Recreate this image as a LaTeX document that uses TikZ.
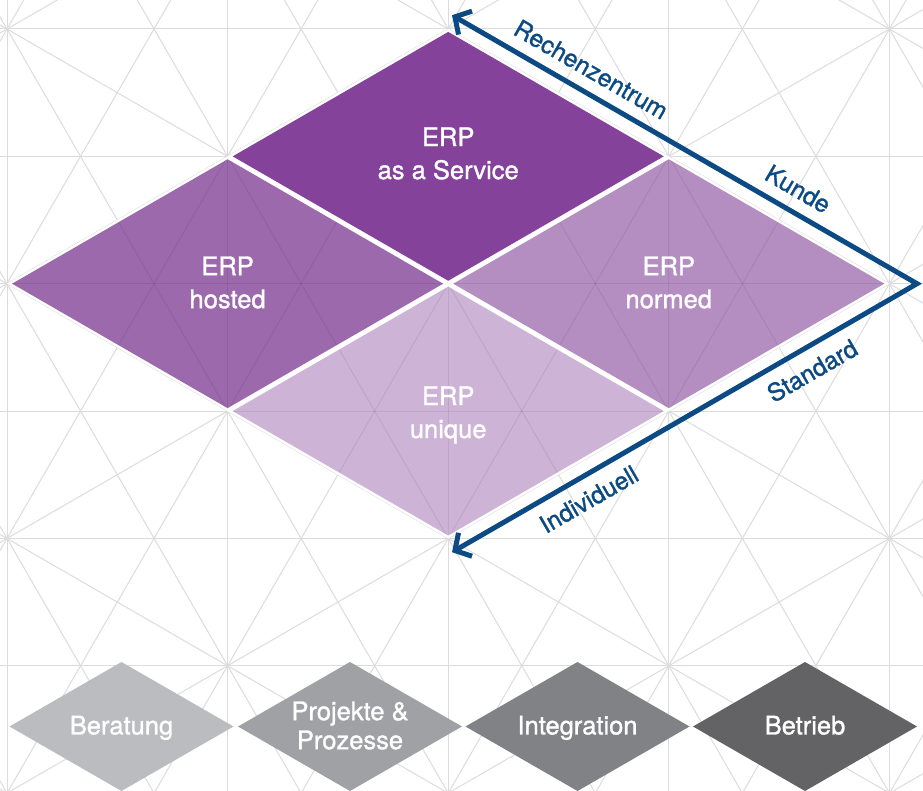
\documentclass[tikz,border=0pt]{standalone}
\usepackage{fontspec}
\setmainfont{TeX Gyre Heros}
\newfontfamily\medfont{TeX Gyre Heros}[FakeBold=1.2]
\usetikzlibrary{arrows.meta}
\definecolor{gridc}{HTML}{DCDCDC}
\definecolor{svc}{HTML}{84429A}
\definecolor{hst}{HTML}{9C69AC}
\definecolor{nrm}{HTML}{B48DC1}
\definecolor{unq}{HTML}{CDB3D6}
\definecolor{gA}{HTML}{BBBCBF}
\definecolor{gB}{HTML}{A0A1A4}
\definecolor{gC}{HTML}{818285}
\definecolor{gD}{HTML}{636365}
\definecolor{navy}{HTML}{0C4A83}
\newcommand\latticelines{%
  \foreach \k in {0,...,6} {\draw (-1,\k) -- (5,\k);}%
  \foreach \k in {0,...,4} {\draw (\k,-1) -- (\k,7);}%
  \foreach \m in {-4,...,4} {\draw (-1,{2*(\m)-1}) -- (5,{2*(\m)+5});}%
  \foreach \m in {-1,...,7} {\draw (-1,{2*(\m)+1}) -- (5,{2*(\m)-5});}%
  \foreach \m in {-10,...,5} {\draw (-1,{2*(\m)-3}) -- (5,{2*(\m)+15});}%
  \foreach \m in {-3,...,12} {\draw (-1,{2*(\m)+3}) -- (5,{2*(\m)-15});}%
}
\newcommand\graydia[2]{\fill[#2] ({#1-112},726.5) -- (#1,662) -- ({#1+112},726.5) -- (#1,791) -- cycle;}
\tikzset{
  erplabel/.style={text=white, font=\medfont\fontsize{25.5}{33}\selectfont, align=center, inner sep=0pt},
  svclabel/.style={text=white, font=\medfont\fontsize{25.5}{29}\selectfont, align=center, inner sep=0pt},
  axislabel/.style={text=navy, font=\medfont\fontsize{24.5}{28}\selectfont, sloped, inner sep=11pt},
  axisarrow/.style={draw=navy, line width=5pt, {Straight Barb[length=12pt,width=27pt]}-{Straight Barb[length=12pt,width=27pt]}},
}
\begin{document}
\begin{tikzpicture}[x=1pt,y=-1pt]
\useasboundingbox (0,0) rectangle (923,791);
\clip (0,0) rectangle (923,791);
\fill[white] (0,0) rectangle (923,791);
% lattice: stars at (7+220.6u, 29+127.35v)
\begin{scope}[shift={(7,29)},x={(220.6pt,0pt)},y={(0pt,-127.35pt)}]
  \begin{scope}[gridc, line width=1pt]
    \latticelines
  \end{scope}
  \fill[white] (0,2) -- (2,0) -- (4,2) -- (2,4) -- cycle;
  \fill[svc] (1.023,1) -- (2,0.023) -- (2.977,1) -- (2,1.977) -- cycle;
  \fill[hst] (0.023,2) -- (1,1.023) -- (1.977,2) -- (1,2.977) -- cycle;
  \fill[nrm] (2.023,2) -- (3,1.023) -- (3.977,2) -- (3,2.977) -- cycle;
  \fill[unq] (1.023,3) -- (2,2.023) -- (2.977,3) -- (2,3.977) -- cycle;
  \begin{scope}
    \clip (0.023,2) -- (1,1.023) -- (1.977,2) -- (1,2.977) -- cycle
          (2.023,2) -- (3,1.023) -- (3.977,2) -- (3,2.977) -- cycle
          (1.023,3) -- (2,2.023) -- (2.977,3) -- (2,3.977) -- cycle;
    \begin{scope}[black, opacity=0.07, line width=1pt]
      \latticelines
    \end{scope}
  \end{scope}
\end{scope}
% ERP labels
\node[erplabel] (svct) at (448.2,153.5) {ERP\\as a Service};
\node[erplabel] (hstt) at (227.6,282.5) {ERP\\hosted};
\node[erplabel] (nrmt) at (668.8,282.5) {ERP\\normed};
\node[erplabel] (unqt) at (448.2,415) {ERP\\unique};
% service diamonds
\graydia{121.5}{gA}
\graydia{350}{gB}
\graydia{577.5}{gC}
\graydia{805}{gD}
\node[svclabel] (berat) at (121.5,727.9) {Beratung};
\node[svclabel] (proj) at (350,725.5) {Projekte \&\\Prozesse};
\node[svclabel] (integ) at (577.5,727.9) {Integration};
\node[svclabel] (betr) at (805,725.3) {Betrieb};
% axis arrow
\coordinate (rz) at (452,15.2);
\coordinate (corner) at (917,283.7);
\coordinate (ind) at (452,552.2);
\draw[axisarrow] (rz)
  -- node[axislabel, pos=.275, anchor=south] (lrz) {Rechenzentrum}
     node[axislabel, pos=.72, anchor=south] (lkd) {Kunde} (corner)
  -- node[axislabel, pos=.25, anchor=north] (lstd) {Standard}
     node[axislabel, pos=.73, anchor=north] (lind) {Individuell} (ind);
\end{tikzpicture}
\end{document}
